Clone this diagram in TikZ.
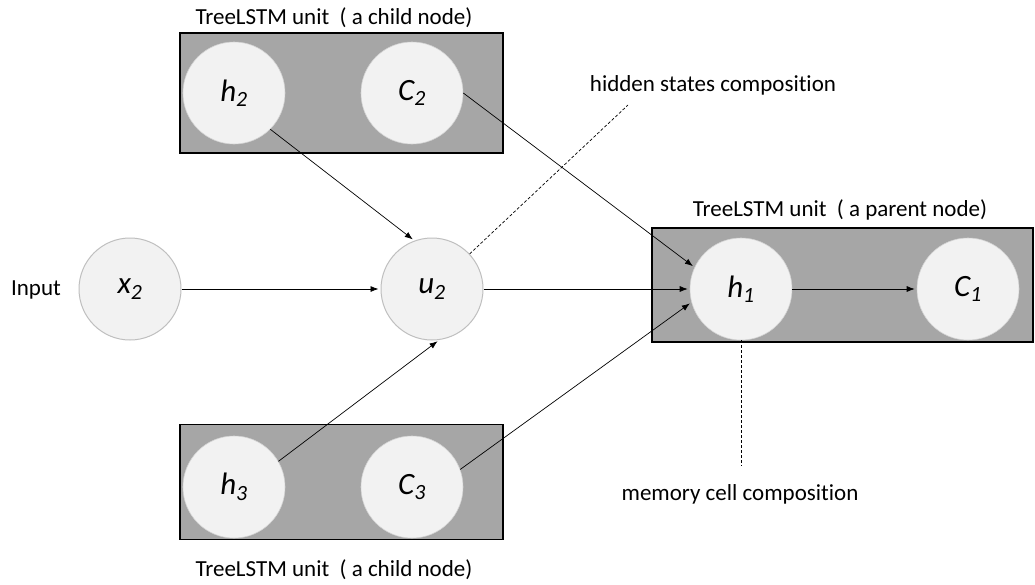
\documentclass[tikz,border=0pt]{standalone}
\usepackage{fontspec}
\setmainfont{Carlito}[Ligatures=NoCommon]
\usetikzlibrary{arrows.meta}
\definecolor{boxgray}{HTML}{A6A6A6}
\definecolor{cellfill}{HTML}{F2F2F2}
\definecolor{cellline}{HTML}{BFBFBF}
\tikzset{
  unitbox/.style={draw=black, line width=1.6pt, fill=boxgray},
  cell/.style={circle, fill=cellfill, draw=cellline, line width=1pt, minimum size=102pt, inner sep=0pt, font=\fontsize{31}{34}\selectfont\itshape},
  incell/.style={cell, draw=cellfill!60!boxgray, line width=0.6pt},
  lbl/.style={font=\fontsize{23}{26}\selectfont, inner sep=0pt},
  conn/.style={-{Latex[length=8pt,width=6pt]}, line width=0.7pt, shorten >=2pt},
  guide/.style={dashed, dash pattern=on 3pt off 2pt, line width=0.7pt}
}
\begin{document}
\begin{tikzpicture}[x=1pt,y=-1pt]
\useasboundingbox (0,0) rectangle (1035,584);
% boxes
\node[unitbox, minimum width=323pt, minimum height=120pt, inner sep=0pt] (topbox) at (341.5,93) {};
\node[unitbox, minimum width=323pt, minimum height=115pt, inner sep=0pt] (botbox) at (341.5,482) {};
\node[unitbox, minimum width=381pt, minimum height=114pt, inner sep=0pt] (parbox) at (842.5,285) {};
% labels
\node[lbl] (toplbl) at (334,18) {TreeLSTM unit\ \ ( a child node)};
\node[lbl] (botlbl) at (334,570) {TreeLSTM unit\ \ ( a child node)};
\node[lbl] (parlbl) at (840,210) {TreeLSTM unit\ \ ( a parent node)};
\node[lbl] (inlbl) at (36,290) {Input};
\node[lbl] (hidlbl) at (713,85) {hidden states composition};
\node[lbl] (memlbl) at (740,494) {memory cell composition};
% cells
\node[incell] (h2) at (234,93) {h\textsubscript{2}};
\node[incell] (c2) at (412,93) {C\textsubscript{2}};
\node[incell] (h3) at (234,487) {h\textsubscript{3}};
\node[incell] (c3) at (412,487) {C\textsubscript{3}};
\node[cell] (x2) at (130,289) {x\textsubscript{2}};
\node[cell] (u2) at (432,289) {u\textsubscript{2}};
\node[incell] (h1) at (741,289) {h\textsubscript{1}};
\node[incell] (c1) at (968,289) {C\textsubscript{1}};
% connectors
\draw[conn] (x2) -- (u2);
\draw[conn] (h2.-45) -- (u2.110);
\draw[conn] (h3.30) -- (u2.-82);
\draw[conn] (u2) -- (h1);
\draw[conn] (c2.east) -- (h1.155);
\draw[conn] (c3.20) -- (h1.195);
\draw[conn] (h1) -- (c1);
% guides
\coordinate (hidend) at (628,105);
\coordinate (memend) at (741,466);
\draw[guide] (u2.43) -- (hidend);
\draw[guide] (h1.south) -- (memend);
\end{tikzpicture}
\end{document}
